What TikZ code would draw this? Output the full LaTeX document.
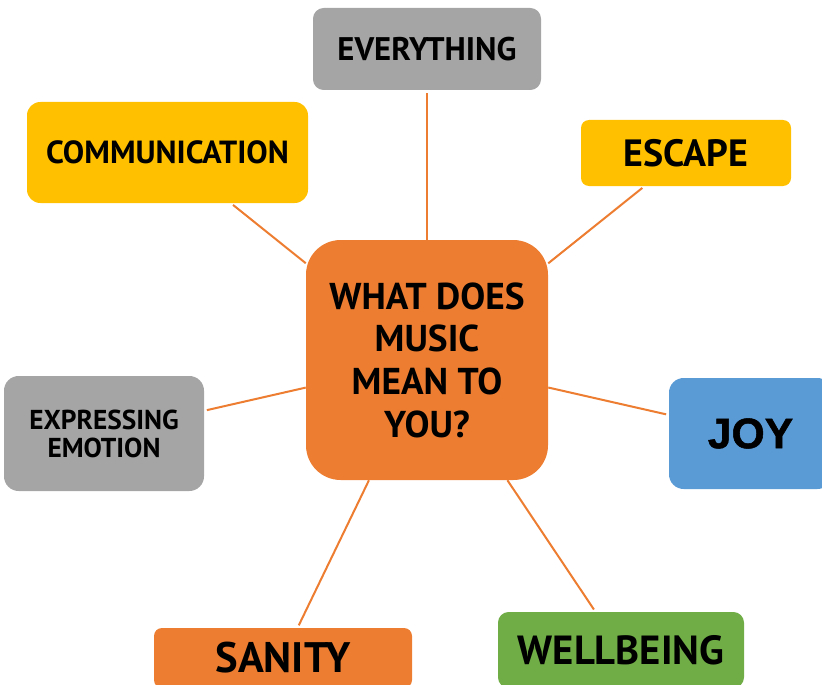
\documentclass[tikz,border=0pt]{standalone}
\usepackage{fontspec}
\setmainfont{PT Sans}
\newfontfamily\joyfont[BoldFeatures={FakeBold=1.2}]{Liberation Sans}
\definecolor{musicorange}{HTML}{ED7D31}
\definecolor{musicyellow}{HTML}{FFC000}
\definecolor{musicgray}{HTML}{A5A5A5}
\definecolor{musicblue}{HTML}{5B9BD5}
\definecolor{musicgreen}{HTML}{70AD47}
\tikzset{
  topic/.style={inner sep=0pt, align=center, text=black, font=\bfseries},
  spoke/.style={draw=musicorange, line width=1.5pt, shorten >=2pt}
}
\begin{document}
\begin{tikzpicture}[x=0.75pt, y=-0.75pt]
    \useasboundingbox (0,0) rectangle (822,685);
    \clip (0,0) rectangle (822,685);

    % Centre question
    \node[topic, fill=musicorange, rounded corners=26pt, minimum width=181.5pt, minimum height=180pt,
          font=\bfseries\fontsize{28}{32}\selectfont] (main) at (427,360)
          {WHAT DOES\\MUSIC\\MEAN TO\\YOU?};

    % Answers round it
    \node[topic, fill=musicgray, rounded corners=8pt, minimum width=171pt, minimum height=61.5pt,
          font=\bfseries\fontsize{24.5}{28}\selectfont] (everything) at (427,49) {EVERYTHING};
    \node[topic, fill=musicyellow, rounded corners=10pt, minimum width=210.75pt, minimum height=75.75pt,
          font=\bfseries\fontsize{24}{28}\selectfont] (communication) at (167.5,152.5) {COMMUNICATION};
    \node[topic, fill=musicyellow, rounded corners=6pt, minimum width=157.5pt, minimum height=49.5pt,
          font=\bfseries\fontsize{28.5}{32}\selectfont] (escape) at (686,153) {ESCAPE};
    \node[topic, fill=musicgray, rounded corners=11pt, minimum width=150pt, minimum height=86.25pt,
          font=\bfseries\fontsize{20.5}{21}\selectfont] (expressing) at (104,433.5) {EXPRESSING\\EMOTION};
    \node[topic, fill=musicblue, rounded corners=11pt, minimum width=122.25pt, minimum height=83.25pt,
          font=\joyfont\bfseries\fontsize{32}{36}\selectfont] (joy) at (750.5,433.5) {JOY};
    \node[topic, fill=musicorange, rounded corners=6pt, minimum width=193.5pt, minimum height=45pt,
          font=\bfseries\fontsize{32}{36}\selectfont] (sanity) at (283,658) {SANITY};
    \node[topic, fill=musicgreen, rounded corners=8pt, minimum width=184.5pt, minimum height=57pt,
          font=\bfseries\fontsize{30.5}{34}\selectfont] (wellbeing) at (621,650) {WELLBEING};

    % Spokes from the question
    \foreach \t in {everything,communication,escape,expressing,joy,sanity,wellbeing}
        \draw[spoke] (main) -- (\t);
\end{tikzpicture}
\end{document}
